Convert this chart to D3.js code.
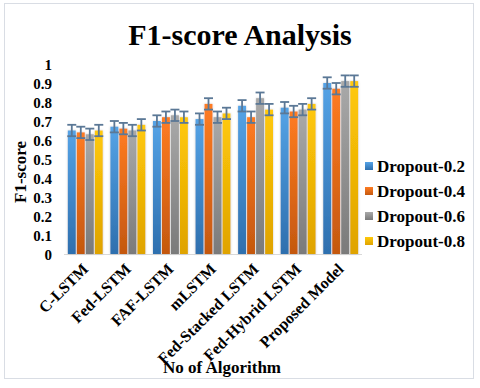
<!DOCTYPE html>
<html>
<head>
<meta charset="utf-8">
<script src="https://cdn.jsdelivr.net/npm/d3@7"></script>
<style>
  body { margin: 0; background: #fff; }
  text { font-family: "Liberation Serif", "Times New Roman", serif; font-weight: bold; fill: #000; }
</style>
</head>
<body>
<svg id="chart"></svg>
<script>
// Data
const algorithms = ["C-LSTM", "Fed-LSTM", "FAF-LSTM", "mLSTM", "Fed-Stacked LSTM", "Fed-Hybrid LSTM", "Proposed Model"];
const seriesNames = ["Dropout-0.2", "Dropout-0.4", "Dropout-0.6", "Dropout-0.8"];
const dropout02 = [0.65, 0.67, 0.70, 0.71, 0.78, 0.77, 0.90];
const dropout04 = [0.64, 0.66, 0.72, 0.79, 0.72, 0.75, 0.87];
const dropout06 = [0.63, 0.65, 0.73, 0.72, 0.82, 0.76, 0.91];
const dropout08 = [0.65, 0.68, 0.72, 0.74, 0.76, 0.79, 0.91];
const errorSize = 0.03;
const yTicks = [0, 0.1, 0.2, 0.3, 0.4, 0.5, 0.6, 0.7, 0.8, 0.9, 1];

const seriesValues = [dropout02, dropout04, dropout06, dropout08];
const colorsTop = ["#55a3e6", "#ff7c22", "#a9a9a9", "#ffc90a"];
const colorsBottom = ["#2e6fae", "#c4580f", "#7a7a7a", "#dfa300"];

const width = 480, height = 388;
const margin = { top: 64, left: 64, right: 118, bottom: 134 };

const svg = d3.select("#chart").attr("width", width).attr("height", height);

// Outer frame
svg.append("rect")
  .attr("x", 4.5).attr("y", 3.5)
  .attr("width", 469).attr("height", 375)
  .attr("fill", "#fff")
  .attr("stroke", "#d9dde4");

const defs = svg.append("defs");
seriesNames.forEach((s, i) => {
  const g = defs.append("linearGradient")
    .attr("id", "grad" + i)
    .attr("x1", 0).attr("y1", 0).attr("x2", 0).attr("y2", 1);
  g.append("stop").attr("offset", "0%").attr("stop-color", colorsTop[i]);
  g.append("stop").attr("offset", "100%").attr("stop-color", colorsBottom[i]);
});
const shadow = defs.append("filter").attr("id", "shadow")
  .attr("x", "-40%").attr("y", "-10%").attr("width", "180%").attr("height", "120%");
shadow.append("feDropShadow")
  .attr("dx", 0).attr("dy", 0).attr("stdDeviation", 1.3)
  .attr("flood-color", "#888").attr("flood-opacity", 0.45);

// Scales
const xScale = d3.scaleBand()
  .domain(algorithms)
  .range([margin.left, width - margin.right])
  .paddingInner(0.18)
  .paddingOuter(0.09);

const xSub = d3.scaleBand()
  .domain(seriesNames)
  .range([0, xScale.bandwidth()])
  .paddingInner(0.12);

const yScale = d3.scaleLinear()
  .domain([0, 1])
  .range([height - margin.bottom, margin.top]);

// Title
svg.append("text")
  .attr("x", 240).attr("y", 45)
  .attr("text-anchor", "middle")
  .style("font-size", "30px")
  .text("F1-score Analysis");

// Axis line
svg.append("line")
  .attr("x1", xScale.range()[0]).attr("x2", xScale.range()[1])
  .attr("y1", yScale(0) + 0.5).attr("y2", yScale(0) + 0.5)
  .attr("stroke", "#d9d9d9");

// Y axis
const yAxis = d3.axisLeft(yScale)
  .tickValues(yTicks)
  .tickSize(0)
  .tickPadding(0)
  .tickFormat(d => d3.format("~g")(d));

svg.append("g")
  .attr("transform", "translate(52,0)")
  .attr("font-family", null)
  .attr("font-size", null)
  .call(yAxis)
  .call(g => g.select(".domain").remove())
  .selectAll("text")
  .attr("dy", "0.35em")
  .style("font-size", "15px")
  .attr("fill", "#000");

// X axis labels
const xAxis = d3.axisBottom(xScale).tickSize(0).tickPadding(0);
svg.append("g")
  .attr("transform", `translate(0,${yScale(0)})`)
  .call(xAxis)
  .attr("font-family", null)
  .attr("font-size", null)
  .call(g => g.select(".domain").remove())
  .selectAll("text")
  .attr("text-anchor", "end")
  .attr("dy", 0)
  .attr("y", 0)
  .attr("transform", "translate(4,16) rotate(-45)")
  .style("font-size", "16px")
  .attr("fill", "#000");

// Axis titles
svg.append("text")
  .attr("transform", "translate(26,172) rotate(-90)")
  .attr("text-anchor", "middle")
  .style("font-size", "17px")
  .text("F1-score");

svg.append("text")
  .attr("x", 222).attr("y", 373)
  .attr("text-anchor", "middle")
  .style("font-size", "17px")
  .text("No of Algorithm");

// Bars
const groups = svg.append("g").selectAll("g")
  .data(algorithms)
  .join("g")
  .attr("transform", d => `translate(${xScale(d)},0)`);

groups.selectAll("rect")
  .data((d, i) => seriesNames.map((s, j) => ({ series: s, idx: j, value: seriesValues[j][i] })))
  .join("rect")
  .attr("x", d => xSub(d.series))
  .attr("width", xSub.bandwidth())
  .attr("y", d => yScale(d.value))
  .attr("height", d => yScale(0) - yScale(d.value))
  .attr("fill", d => `url(#grad${d.idx})`)
  .attr("filter", "url(#shadow)");

// Error bars
const errColor = "#5b7896";
const err = groups.selectAll("g.err")
  .data((d, i) => seriesNames.map((s, j) => ({ series: s, value: seriesValues[j][i] })))
  .join("g")
  .attr("class", "err")
  .attr("transform", d => `translate(${xSub(d.series) + xSub.bandwidth() / 2},0)`);

err.append("line")
  .attr("y1", d => yScale(d.value + errorSize))
  .attr("y2", d => yScale(d.value - errorSize))
  .attr("stroke", errColor).attr("stroke-width", 1.8);
[errorSize, -errorSize].forEach(e => {
  err.append("line")
    .attr("x1", -4.5).attr("x2", 4.5)
    .attr("y1", d => yScale(d.value + e))
    .attr("y2", d => yScale(d.value + e))
    .attr("stroke", errColor).attr("stroke-width", 1.8);
});

// Legend
const legend = svg.append("g").selectAll("g")
  .data(seriesNames)
  .join("g")
  .attr("transform", (d, i) => `translate(365,${166 + i * 25})`);

legend.append("rect")
  .attr("x", 0).attr("y", -4)
  .attr("width", 8).attr("height", 8)
  .attr("fill", (d, i) => `url(#grad${i})`);

legend.append("text")
  .attr("x", 12).attr("y", 0)
  .attr("dy", "0.35em")
  .style("font-size", "17px")
  .text(d => d);
</script>
</body>
</html>
